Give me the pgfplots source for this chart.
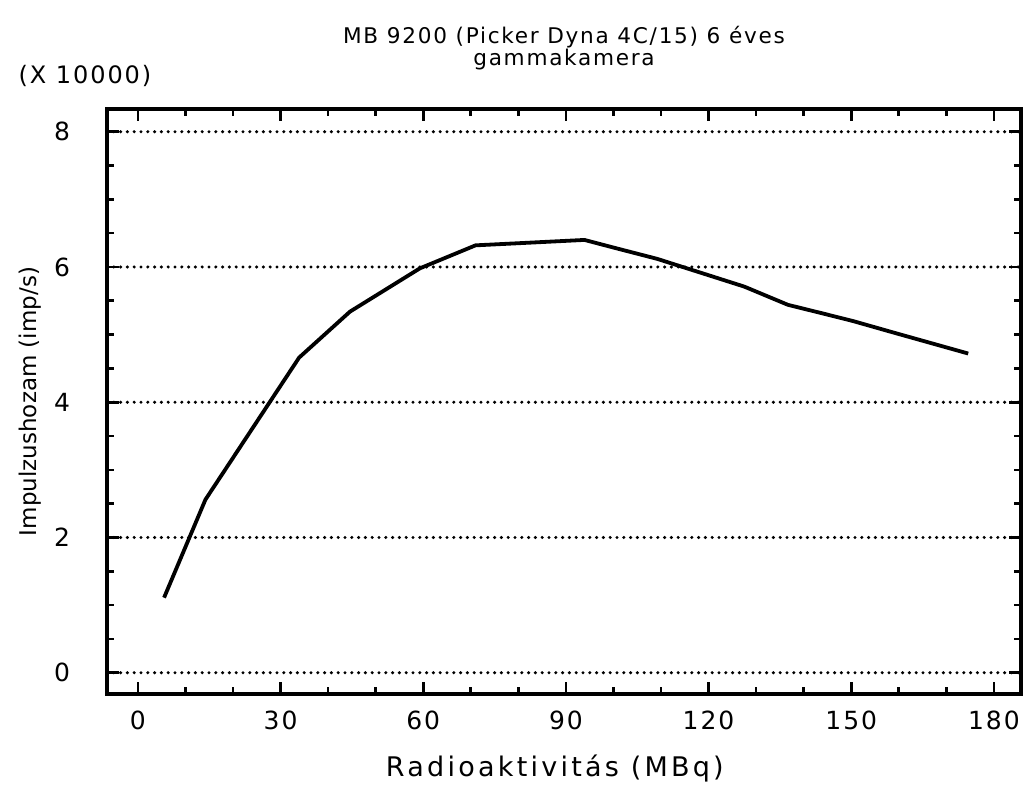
\documentclass[border=0pt]{standalone}
\usepackage{fontspec}
\setmainfont{DejaVu Sans}
\newfontfamily\spaced[LetterSpace=8]{DejaVu Sans}
\newfontfamily\wide[LetterSpace=12]{DejaVu Sans}
\usepackage{pgfplots}
\pgfplotsset{compat=1.18}
\begin{document}
\begin{tikzpicture}
\useasboundingbox (-53.5pt,-45pt) rectangle (459.5pt,347pt);
\begin{axis}[
  scale only axis,
  width=457pt, height=292.5pt,
  xmin=-6.5, xmax=185.7,
  ymin=-0.315, ymax=8.336,
  xtick={0,30,...,180},
  ytick={0,2,...,8},
  minor x tick num=2,
  minor y tick num=3,
  tick align=inside,
  xtick pos=both, ytick pos=both,
  xticklabel pos=lower, yticklabel pos=left,
  major tick length=6pt,
  minor tick length=3.5pt,
  every tick/.style={black, line width=1.3pt},
  axis line style={black, line width=1.6pt},
  /pgf/number format/assume math mode=true,
  ticklabel style={font=\spaced\fontsize{12.5}{14}\selectfont},
  xticklabel style={yshift=-5pt},
  yticklabel style={xshift=-15pt},
  ymajorgrids,
  major grid style={black, line width=1.7pt, line cap=round, dash pattern=on 0pt off 3.4pt},
  xlabel={Radioaktivitás (MBq)},
  xlabel style={font=\wide\fontsize{13.5}{15}\selectfont, at={(axis description cs:0.49,0)}, anchor=center, yshift=-37pt},
  ylabel={Impulzushozam (imp/s)},
  ylabel style={font=\fontsize{11.5}{14}\selectfont, at={(axis description cs:0,0.5)}, anchor=center, yshift=38.5pt},
  clip=false,
]
\addplot[black, line width=1.9pt, line join=round, mark=none] coordinates {
(5.5,1.11)
(14.2,2.56)
(33.9,4.66)
(44.6,5.34)
(59.3,5.98)
(71.0,6.32)
(82.5,6.36)
(93.9,6.40)
(100.4,6.28)
(109.2,6.12)
(127.5,5.71)
(136.7,5.44)
(143.6,5.32)
(150.4,5.20)
(158.9,5.03)
(174.6,4.72)
};
\end{axis}
\node[font=\spaced\fontsize{10.8}{12}\selectfont, anchor=center] at (228.5pt,328.5pt) {MB 9200 (Picker Dyna 4C/15) 6 éves};
\node[font=\spaced\fontsize{10.8}{12}\selectfont, anchor=center] at (228.5pt,317pt) {gammakamera};
\node[font=\spaced\fontsize{12}{14}\selectfont, anchor=center] at (-11pt,309pt) {(X 10000)};
\end{tikzpicture}
\end{document}
